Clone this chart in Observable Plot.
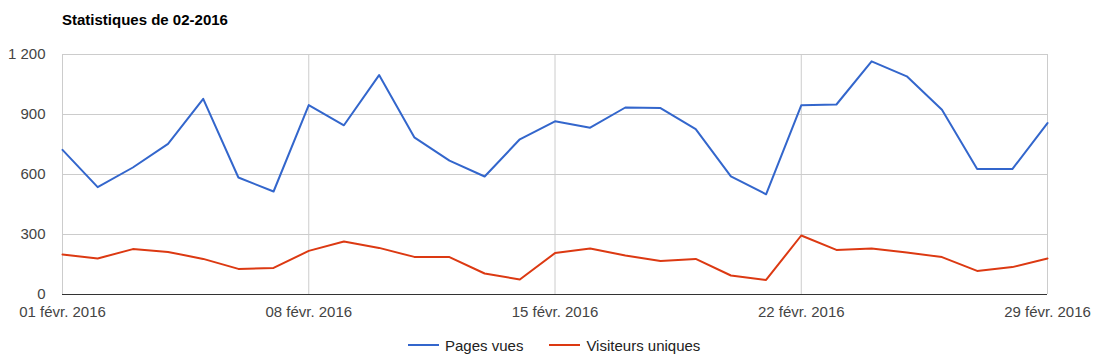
<!DOCTYPE html>
<html>
<head>
<meta charset="utf-8">
<script src="https://cdn.jsdelivr.net/npm/d3@7"></script>
<script src="https://cdn.jsdelivr.net/npm/@observablehq/plot@0.6"></script>
<style>
  body { margin: 0; background: #fff; font-family: Arial, "Liberation Sans", sans-serif; }
  #wrap { width: 1098px; height: 360px; position: relative; overflow: hidden; }
  #title { height: 40px; box-sizing: border-box; padding: 11px 0 0 62px; font-weight: bold; font-size: 15px; color: #000; }
  #chart svg { display: block; }
  #legend { height: 30px; display: flex; align-items: center; padding-left: 408px; font-size: 15px; color: #222; }
  .sw { width: 31px; height: 2px; margin-right: 6px; }
</style>
</head>
<body>
<div id="wrap">
  <div id="title">Statistiques de 02-2016</div>
  <div id="chart"></div>
  <div id="legend"></div>
</div>
<script>
// Data
const days = d3.range(1, 30); // 1..29 February 2016
const pagesVues = [723, 537, 635, 753, 978, 585, 515, 947, 846, 1097, 786, 669, 590, 776, 866, 834, 935, 932, 827, 591, 501, 946, 950, 1166, 1091, 924, 627, 627, 857];
const visiteursUniques = [200, 180, 227, 213, 178, 128, 133, 218, 265, 233, 188, 187, 105, 75, 207, 230, 195, 167, 178, 95, 73, 295, 223, 230, 210, 187, 118, 137, 180];
const seriesNames = ["Pages vues", "Visiteurs uniques"];
const seriesColors = ["#3366cc", "#dc3912"];
const yTicks = [0, 300, 600, 900, 1200];
const xTickDays = [1, 8, 15, 22, 29];
const monthLabel = "févr.";

const date = d => new Date(Date.UTC(2016, 1, d));
const table = [];
days.forEach((d, i) => {
  table.push({date: date(d), value: pagesVues[i], series: seriesNames[0]});
  table.push({date: date(d), value: visiteursUniques[i], series: seriesNames[1]});
});
const xTicks = xTickDays.map(date);
const fr = d3.formatLocale({decimal: ",", thousands: "\u00a0", grouping: [3], currency: ["", " €"]});
const yFmt = fr.format(",");
const xFmt = d => String(d.getUTCDate()).padStart(2, "0") + " " + monthLabel + " " + d.getUTCFullYear();

const chart = Plot.plot({
  width: 1098,
  height: 290,
  marginTop: 14,
  marginBottom: 36,
  marginLeft: 62,
  marginRight: 51,
  style: {fontFamily: "Arial, 'Liberation Sans', sans-serif", fontSize: "15px", background: "#fff"},
  x: {type: "utc", domain: [date(1), date(29)]},
  y: {domain: [0, 1200]},
  color: {domain: seriesNames, range: seriesColors},
  marks: [
    Plot.gridY(yTicks, {stroke: "#cccccc", strokeOpacity: 1}),
    Plot.gridX(xTicks, {stroke: "#cccccc", strokeOpacity: 1}),
    Plot.axisY(yTicks, {tickSize: 0, tickPadding: 17, tickFormat: yFmt, fill: "#444", fontSize: 15, label: null}),
    Plot.axisX(xTicks, {tickSize: 0, tickPadding: 12, tickFormat: xFmt, fill: "#444", fontSize: 15, label: null}),
    Plot.ruleY([0], {stroke: "#333"}),
    Plot.line(table, {x: "date", y: "value", z: "series", stroke: "series", strokeWidth: 2})
  ]
});
document.getElementById("chart").appendChild(chart);

const legend = document.getElementById("legend");
seriesNames.forEach((name, i) => {
  const it = document.createElement("div");
  it.style.display = "flex";
  it.style.alignItems = "center";
  it.style.marginRight = i === 0 ? "26px" : "0";
  const sw = document.createElement("div");
  sw.className = "sw";
  sw.style.background = seriesColors[i];
  const t = document.createElement("span");
  t.textContent = name;
  it.appendChild(sw);
  it.appendChild(t);
  legend.appendChild(it);
});
</script>
</body>
</html>
